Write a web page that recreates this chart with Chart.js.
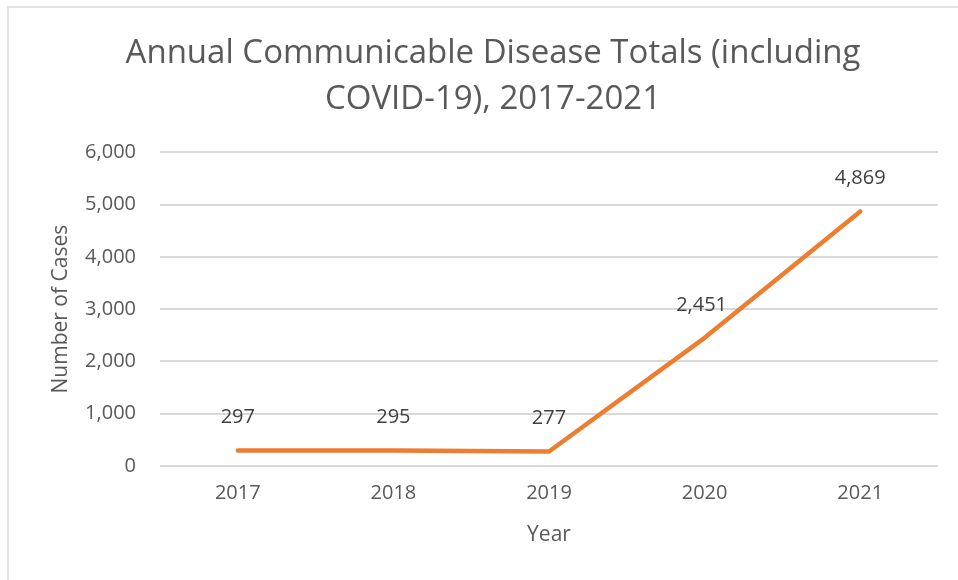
<!DOCTYPE html>
<html>
<head>
<meta charset="utf-8">
<script src="https://cdn.jsdelivr.net/npm/chart.js@4/dist/chart.umd.min.js"></script>
<style>
  html, body { margin: 0; padding: 0; background: #ffffff; overflow: hidden; }
  #wrap { position: relative; width: 958px; height: 580px; }
  #frame { position: absolute; left: 7px; top: 6px; width: 1000px; height: 620px; border: 2px solid #e3e3e3; box-sizing: border-box; }
  canvas { position: absolute; left: 0; top: 0; }
</style>
</head>
<body>
<div id="wrap">
  <div id="frame"></div>
  <canvas id="c" width="958" height="580"></canvas>
</div>
<script>
const years = ['2017', '2018', '2019', '2020', '2021'];
const totals = [297, 295, 277, 2451, 4869];
const titleLines = ['Annual Communicable Disease Totals (including', 'COVID-19), 2017-2021'];
const yTickMax = 6000;
const yTickStep = 1000;

const FONT = "'Open Sans', 'Liberation Sans', sans-serif";

const fmt = v => Number(v).toLocaleString('en-US');

const dataLabels = {
  id: 'dataLabels',
  afterDatasetsDraw(chart) {
    const ctx = chart.ctx;
    const meta = chart.getDatasetMeta(0);
    ctx.save();
    ctx.font = "20px " + FONT;
    ctx.fillStyle = '#404040';
    ctx.textAlign = 'center';
    ctx.textBaseline = 'middle';
    meta.data.forEach((pt, i) => {
      ctx.fillText(fmt(totals[i]), pt.x - (i === 3 ? 3 : 0), pt.y - 33);
    });
    ctx.restore();
  }
};

new Chart(document.getElementById('c'), {
  type: 'line',
  data: {
    labels: years,
    datasets: [{
      data: totals,
      borderColor: '#ED7D31',
      borderWidth: 4.5,
      borderCapStyle: 'round',
      borderJoinStyle: 'round',
      pointRadius: 0,
      pointHoverRadius: 0,
      tension: 0,
      fill: false
    }]
  },
  options: {
    responsive: false,
    animation: false,
    devicePixelRatio: 1,
    layout: { padding: { left: 48, right: 20, top: 8, bottom: 28 } },
    plugins: {
      legend: { display: false },
      tooltip: { enabled: false },
      title: {
        display: true,
        text: titleLines,
        color: '#595959',
        font: { family: FONT, size: 33, weight: 'normal', lineHeight: 1.39 },
        padding: { top: 23, bottom: 29.5 }
      }
    },
    scales: {
      x: {
        offset: true,
        grid: { display: false, drawTicks: false },
        border: { display: false },
        ticks: { color: '#595959', font: { family: FONT, size: 20 }, padding: 15 },
        title: { display: true, text: 'Year', color: '#595959', font: { family: FONT, size: 21 }, padding: { top: 4, bottom: 4 } },
        afterFit(scale) { scale.height = 86; }
      },
      y: {
        min: 0,
        max: yTickMax,
        grid: { color: '#d9d9d9', lineWidth: 2, drawTicks: false },
        border: { display: false },
        ticks: { stepSize: yTickStep, color: '#595959', font: { family: FONT, size: 20 }, padding: 24, callback: v => fmt(v) },
        title: { display: true, text: 'Number of Cases', color: '#595959', font: { family: FONT, size: 21 }, padding: 0 },
        afterFit(scale) { scale.width = 112; }
      }
    }
  },
  plugins: [dataLabels]
});
</script>
</body>
</html>
